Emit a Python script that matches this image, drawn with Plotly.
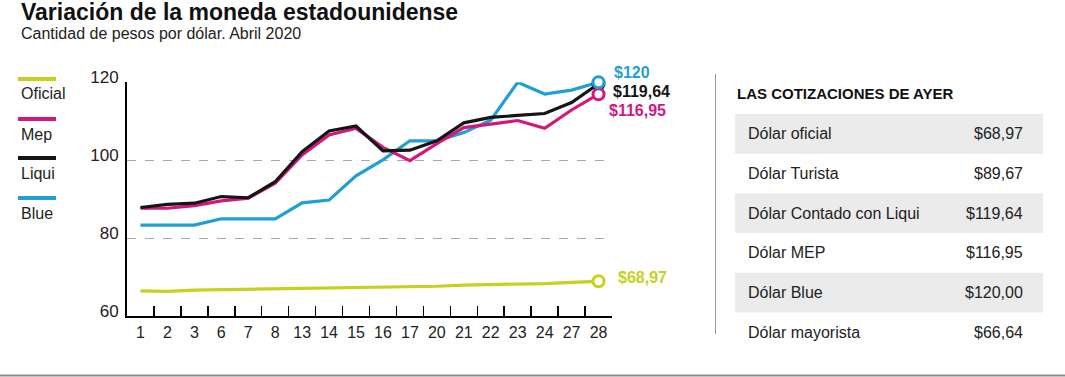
import plotly.graph_objects as go

W, H = 1065, 377

# ---------------- data ----------------
categories = ["1", "2", "3", "6", "7", "8", "13", "14", "15", "16", "17",
              "20", "21", "22", "23", "24", "27", "28"]
oficial = [66.5, 66.4, 66.7, 66.8, 66.9, 66.9, 67.1, 67.2, 67.3, 67.5, 67.6,
           67.7, 68.0, 68.1, 68.2, 68.4, 68.7, 68.97]
blue = [83.4, 83.4, 83.4, 85.0, 85.0, 85.0, 89.1, 89.8, 96.0, 100.1, 105.0,
        105.0, 107.1, 110.3, 120.0, 117.0, 118.0, 120.0]
mep = [87.7, 87.7, 88.4, 89.6, 90.3, 94.1, 101.4, 106.5, 108.2, 103.3, 99.9,
       104.3, 108.4, 109.4, 110.2, 108.2, 112.9, 116.95]
liqui = [87.9, 88.7, 89.0, 90.7, 90.4, 94.5, 102.2, 107.5, 108.8, 102.4, 102.6,
         105.0, 109.6, 111.0, 111.5, 112.0, 114.8, 119.64]

series_names = ["Oficial", "Mep", "Liqui", "Blue"]
end_labels = {"Oficial": "$68,97", "Blue": "$120", "Mep": "$116,95", "Liqui": "$119,64"}
y_ticks = [60, 80, 100, 120]

table_labels = ["Dólar oficial", "Dólar Turista", "Dólar Contado con Liqui",
                "Dólar MEP", "Dólar Blue", "Dólar mayorista"]
table_values = ["$68,97", "$89,67", "$119,64", "$116,95", "$120,00", "$66,64"]

title = "Variación de la moneda estadounidense"
subtitle = "Cantidad de pesos por dólar. Abril 2020"
table_title = "LAS COTIZACIONES DE AYER"

# ---------------- style ----------------
colors = {"Oficial": "#c5d11b", "Mep": "#d4177f", "Liqui": "#151515", "Blue": "#1f9fd3"}
FONT = "Liberation Sans, Arial, sans-serif"
TXT = "#222222"


def px(x):
    return x / W


def py(y):
    return 1 - y / H


data = {"Oficial": oficial, "Blue": blue, "Mep": mep, "Liqui": liqui}
line_order = ["Oficial", "Blue", "Mep", "Liqui"]
marker_order = ["Oficial", "Liqui", "Mep", "Blue"]
last_idx = categories.index(categories[-1])

fig = go.Figure()
for name in line_order:
    fig.add_trace(go.Scatter(
        x=categories, y=data[name], mode="lines", name=name,
        line=dict(color=colors[name], width=3.2), showlegend=False,
        hoverinfo="skip"))
for name in marker_order:
    fig.add_trace(go.Scatter(
        x=[categories[-1]], y=[data[name][-1]], mode="markers",
        marker=dict(symbol="circle", size=11, color="white",
                    line=dict(color=colors[name], width=3)),
        showlegend=False, cliponaxis=False, hoverinfo="skip"))

annotations = []
shapes = []

# end labels (category axis annotations use the category index)
label_offsets = {"Blue": (13, 10), "Liqui": (12, -8), "Mep": (8, -16), "Oficial": (17, 4)}
for name in line_order:
    dx, dy = label_offsets[name]
    annotations.append(dict(
        x=last_idx, y=data[name][-1], xref="x", yref="y",
        text="<b>%s</b>" % end_labels[name], showarrow=False,
        xanchor="left", yanchor="middle", xshift=dx, yshift=dy,
        font=dict(family=FONT, size=16, color=colors[name])))

# title / subtitle
annotations.append(dict(x=px(19), y=py(12), xref="paper", yref="paper",
                        text="<b>%s</b>" % title, showarrow=False,
                        xanchor="left", yanchor="middle",
                        font=dict(family=FONT, size=23, color="#111111")))
annotations.append(dict(x=px(19), y=py(34), xref="paper", yref="paper",
                        text=subtitle, showarrow=False,
                        xanchor="left", yanchor="middle",
                        font=dict(family=FONT, size=16, color=TXT)))

# custom legend (line above label)
leg_y = [79, 119, 158, 198]
for name, ly in zip(series_names, leg_y):
    shapes.append(dict(type="line", xref="paper", yref="paper",
                       x0=px(18), x1=px(56), y0=py(ly), y1=py(ly),
                       line=dict(color=colors[name], width=4)))
    annotations.append(dict(x=px(19), y=py(ly + 15), xref="paper", yref="paper",
                            text=name, showarrow=False,
                            xanchor="left", yanchor="middle",
                            font=dict(family=FONT, size=16, color=TXT)))

# separator and bottom rule
shapes.append(dict(type="line", xref="paper", yref="paper",
                   x0=px(715.5), x1=px(715.5), y0=py(74), y1=py(334),
                   line=dict(color="#9a9a9a", width=1)))
shapes.append(dict(type="line", xref="paper", yref="paper",
                   x0=0, x1=1, y0=py(375.5), y1=py(375.5),
                   line=dict(color="#8a8a8a", width=2)))

# table
annotations.append(dict(x=px(735), y=py(93), xref="paper", yref="paper",
                        text="<b>%s</b>" % table_title, showarrow=False,
                        xanchor="left", yanchor="middle",
                        font=dict(family=FONT, size=15, color="#111111")))
row_top, row_h = 114, 39.7
for i, (lab, val) in enumerate(zip(table_labels, table_values)):
    y0 = row_top + i * row_h
    if i % 2 == 0:
        shapes.append(dict(type="rect", xref="paper", yref="paper",
                           x0=px(735), x1=px(1043), y0=py(y0 + row_h), y1=py(y0),
                           fillcolor="#ebebeb", line=dict(width=0), layer="below"))
    annotations.append(dict(x=px(746), y=py(y0 + row_h / 2), xref="paper", yref="paper",
                            text=lab, showarrow=False, xanchor="left", yanchor="middle",
                            font=dict(family=FONT, size=16, color=TXT)))
    annotations.append(dict(x=px(1025), y=py(y0 + row_h / 2), xref="paper", yref="paper",
                            text=val, showarrow=False, xanchor="right", yanchor="middle",
                            font=dict(family=FONT, size=16, color=TXT)))

fig.update_layout(
    width=W, height=H,
    margin=dict(l=0, r=0, t=0, b=0, autoexpand=False),
    paper_bgcolor="white", plot_bgcolor="white",
    showlegend=False,
    annotations=annotations, shapes=shapes,
    xaxis=dict(
        domain=[px(127), px(612)], type="category",
        categoryorder="array", categoryarray=categories,
        range=[-0.5, len(categories) - 0.5],
        tickson="boundaries", ticks="inside", ticklen=10, tickwidth=1.5,
        tickcolor="black", showline=True, linecolor="black", linewidth=2,
        showgrid=False, zeroline=False, tickangle=0,
        tickfont=dict(family=FONT, size=16, color=TXT),
        fixedrange=True),
    yaxis=dict(
        domain=[py(316.3), py(82.3)], range=[60, 120],
        tickvals=y_ticks, ticks="", showline=True, linecolor="black",
        linewidth=2, showgrid=True, gridcolor="#a8a8a8", griddash="dash",
        gridwidth=1, zeroline=False,
        tickfont=dict(family=FONT, size=17, color=TXT),
        ticklabelshift=-5, ticklabelstandoff=3,
        fixedrange=True),
)

fig.write_html("out.html",
               config={"displayModeBar": False, "staticPlot": True},
               post_script="document.body.style.margin='0';document.body.style.overflow='hidden';")
